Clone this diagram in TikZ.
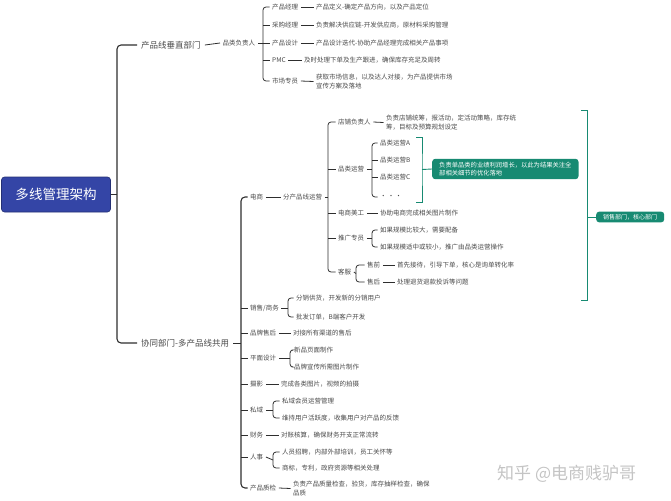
\documentclass[tikz,border=0pt]{standalone}
\usepackage{fontspec}
\setmainfont{Noto Sans CJK SC}
\definecolor{txt}{HTML}{4A4A4A}
\definecolor{lc}{HTML}{2E2E2E}
\definecolor{tealc}{HTML}{178A72}
\definecolor{rootc}{HTML}{3445A6}
\definecolor{wm}{HTML}{C4C4C4}
\begin{document}
\begin{tikzpicture}[x=1pt,y=-1pt,
  t/.style={font=\fontsize{6.5}{9}\selectfont, text=txt, inner xsep=2.5pt, inner ysep=1pt, anchor=west, align=left},
  lone/.style={font=\fontsize{8.5}{10}\selectfont, text=txt, inner xsep=4pt, inner ysep=1pt, anchor=west},
  rootbox/.style={fill=rootc, draw=rootc!70!black, line width=0.6pt, rounded corners=3pt, text=white,
     font=\fontsize{13.5}{15}\selectfont, minimum width=109pt, minimum height=35pt, inner sep=0pt},
  tealbox/.style={fill=tealc, rounded corners=3pt, text=white, font=\fontsize{6.3}{8.5}\selectfont,
     inner xsep=7pt, inner ysep=3pt, anchor=west, align=left},
  lnm/.style={draw=lc, line width=1.1pt, rounded corners=4pt},
  ln/.style={draw=lc, line width=0.8pt, rounded corners=3pt},
  tl/.style={draw=tealc, line width=0.9pt},
]
\useasboundingbox (0,0) rectangle (671,500);

% root
\node[rootbox] (root) at (56,194.5) {多线管理架构};
\coordinate (s0) at (117,194.5);
\node[lone] (dA) at (137,45) {产品线垂直部门};
\node[lone] (dB) at (137,343) {协同部门-多产品线共用};
\draw[lnm] (root.east) -- (s0);
\draw[lnm] (dA.west) -| (s0) |- (dB.west);

% ---------- top branch ----------
\node[t] (pm) at (220,43) {品类负责人};
\draw[ln] (dA.east) -- (pm.west);
\coordinate (s1) at (263,43);
\node[t] (p1) at (269.5,7) {产品经理};
\node[t] (p2) at (269.5,25) {采购经理};
\node[t] (p3) at (269.5,43) {产品设计};
\node[t] (p4) at (269.5,60) {PMC};
\node[t] (p5) at (269.5,81) {市场专员};
\draw[ln] (pm.east) -- (s1);
\draw[ln] (p1.west) -| (s1) |- (p5.west);
\foreach \n in {p2,p3,p4} \draw[ln] (s1 |- \n.west) -- (\n.west);
\node[t] (d1) at (313.5,7) {产品定义-确定产品方向，以及产品定位};
\node[t] (d2) at (313.5,25) {负责解决供应链-开发供应商，原材料采购管理};
\node[t] (d3) at (313.5,43) {产品设计迭代-协助产品经理完成相关产品事项};
\node[t] (d4) at (301.5,60) {及时处理下单及生产跟进，确保库存充足及周转};
\node[t] (d5) at (313.5,81.5) {获取市场信息，以及达人对接，为产品提供市场\\宣传方案及落地};
\foreach \a/\b in {p1/d1,p2/d2,p3/d3,p4/d4,p5/d5} \draw[ln] (\a.east) -- (\b.west);

% ---------- lower branch ----------
\coordinate (s2) at (241,343);
\draw[ln] (dB.east) -- (s2);
\node[t] (e1) at (247.5,197) {电商};
\node[t] (e2) at (247.5,308) {销售/商务};
\node[t] (e3) at (247.5,333) {品牌售后};
\node[t] (e4) at (247.5,358) {平面设计};
\node[t] (e5) at (247.5,384) {摄影};
\node[t] (e6) at (247.5,410) {私域};
\node[t] (e7) at (247.5,435) {财务};
\node[t] (e8) at (247.5,457) {人事};
\node[t] (e9) at (247.5,488) {产品质检};
\draw[lnm] (e1.west) -| (s2) |- (e9.west);
\foreach \n in {e2,e3,e4,e5,e6,e7,e8} \draw[ln] (s2 |- \n.west) -- (\n.west);

% 电商
\node[t] (f1) at (280.5,197) {分产品线运营};
\draw[ln] (e1.east) -- (f1.west);
\coordinate (s3) at (328,197);
\draw[ln] (f1.east) -- (s3);
\node[t] (g1) at (335.5,122) {店铺负责人};
\node[t] (g2) at (335.5,169) {品类运营};
\node[t] (g3) at (335.5,213) {电商美工};
\node[t] (g4) at (335.5,238) {推广专员};
\node[t] (g5) at (335.5,272) {客服};
\draw[ln] (g1.west) -| (s3) |- (g5.west);
\foreach \n in {g2,g3,g4} \draw[ln] (s3 |- \n.west) -- (\n.west);

\node[t] (h1) at (383.5,122.5) {负责店铺统筹，报活动，定活动策略，库存统\\筹，目标及预算规划设定};
\draw[ln] (g1.east) -- (h1.west);

\coordinate (s4) at (372,169);
\draw[ln] (g2.east) -- (s4);
\node[t] (q1) at (377.5,143) {品类运营A};
\node[t] (q2) at (377.5,160) {品类运营B};
\node[t] (q3) at (377.5,177) {品类运营C};
\node[t] (q4) at (377.5,197) {·\,·\,·};
\draw[ln] (q1.west) -| (s4) |- (q4.west);
\foreach \n in {q2,q3} \draw[ln] (s4 |- \n.west) -- (\n.west);

\node[t] (h3) at (377.5,213) {协助电商完成相关图片制作};
\draw[ln] (g3.east) -- (h3.west);

\coordinate (s5) at (372,238);
\draw[ln] (g4.east) -- (s5);
\node[t] (r1) at (377.5,230) {如果规模比较大，需要配备};
\node[t] (r2) at (377.5,247) {如果规模适中或较小，推广由品类运营操作};
\draw[ln] (r1.west) -| (s5) |- (r2.west);

\coordinate (s6) at (356,273.5);
\draw[ln] (g5.east) -- (s6);
\node[t] (k1) at (364.5,265) {售前};
\node[t] (k2) at (364.5,282) {售后};
\draw[ln] (k1.west) -| (s6) |- (k2.west);
\node[t] (m1) at (394.5,265) {首先接待，引导下单，核心是询单转化率};
\node[t] (m2) at (394.5,282) {处理退货退款投诉等问题};
\draw[ln] (k1.east) -- (m1.west);
\draw[ln] (k2.east) -- (m2.west);

% teal bracket: 品类运营
\coordinate (ta1) at (416,137);
\coordinate (ta2) at (416,202);
\coordinate (tm1) at (422,169.5);
\node[tealbox] (tb1) at (432,169) {负责单品类的业绩利润增长，以此为结果关注全\\部相关细节的优化落地};
\draw[tl] (ta1) -| (tm1) |- (ta2);
\draw[tl] (tm1) -- (tb1.west);

% teal bracket: 销售部门
\coordinate (tc1) at (581,110);
\coordinate (tc2) at (581,300);
\coordinate (tm2) at (587,217);
\node[tealbox, inner ysep=2.5pt, font=\fontsize{6}{7}\selectfont] (tb2) at (596,217) {销售部门，核心部门};
\draw[tl] (tc1) -| (tm2) |- (tc2);
\draw[tl] (tm2) -- (tb2.west);

% rest of lower branch
\coordinate (s7) at (288,308);
\draw[ln] (e2.east) -- (s7);
\node[t] (u1) at (293.5,298) {分销供货，开发新的分销用户};
\node[t] (u2) at (293.5,317) {批发订单，B端客户开发};
\draw[ln] (u1.west) -| (s7) |- (u2.west);

\node[t] (v1) at (290.5,333) {对接所有渠道的售后};
\draw[ln] (e3.east) -- (v1.west);

\coordinate (s8) at (290,358);
\draw[ln] (e4.east) -- (s8);
\node[t] (w1) at (291.5,350) {新品页面制作};
\node[t] (w2) at (291.5,367) {品牌宣传所需图片制作};
\draw[ln] (w1.west) -| (s8) |- (w2.west);

\node[t] (x1) at (278.5,384) {完成各类图片，视频的拍摄};
\draw[ln] (e5.east) -- (x1.west);

\coordinate (s9) at (273,410);
\draw[ln] (e6.east) -- (s9);
\node[t] (y1) at (279.5,401) {私域会员运营管理};
\node[t] (y2) at (279.5,418) {维持用户活跃度，收集用户对产品的反馈};
\draw[ln] (y1.west) -| (s9) |- (y2.west);

\node[t] (z1) at (278.5,435) {对账核算，确保财务开支正常流转};
\draw[ln] (e7.east) -- (z1.west);

\coordinate (s10) at (273,460);
\draw[ln] (e8.east) -- (s10);
\node[t] (o1) at (279.5,452) {人员招聘，内部外部培训，员工关怀等};
\node[t] (o2) at (279.5,468) {商标，专利，政府资源等相关处理};
\draw[ln] (o1.west) -| (s10) |- (o2.west);

\node[t] (n1) at (290.5,488.5) {负责产品质量检查，验货，库存抽样检查，确保\\品质};
\draw[ln] (e9.east) -- (n1.west);

% watermark
\node[anchor=west, text=wm, font=\fontsize{17}{19}\selectfont, inner sep=0pt] (wmk) at (497,474) {知乎 @电商贱驴哥};
\end{tikzpicture}
\end{document}
